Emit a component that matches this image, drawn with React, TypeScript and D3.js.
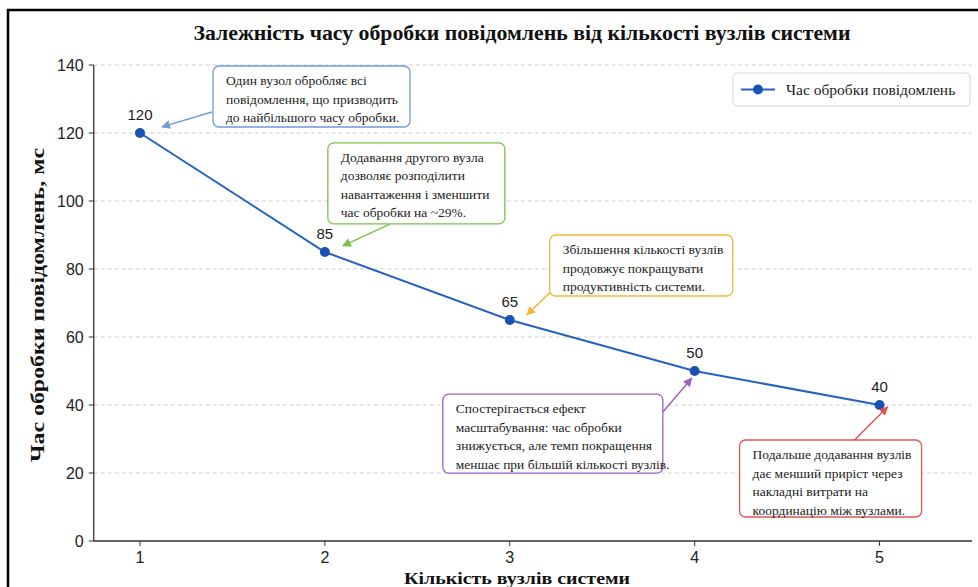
import React from 'react';
import * as d3 from 'd3';

// data
const nodes = [1, 2, 3, 4, 5];
const times = [120, 85, 65, 50, 40];
const yTicks = [0, 20, 40, 60, 80, 100, 120, 140];

const chartTitle = 'Залежність часу обробки повідомлень від кількості вузлів системи';
const xTitle = 'Кількість вузлів системи';
const yTitle = 'Час обробки повідомлень, мс';
const seriesName = 'Час обробки повідомлень';

const noteTexts = [
  ['Один вузол обробляє всі', 'повідомлення, що призводить', 'до найбільшого часу обробки.'],
  ['Додавання другого вузла', 'дозволяє розподілити', 'навантаження і зменшити', 'час обробки на ~29%.'],
  ['Збільшення кількості вузлів', 'продовжує покращувати', 'продуктивність системи.'],
  ['Спостерігається ефект', 'масштабування: час обробки', 'знижується, але темп покращення', 'меншає при більшій кількості вузлів.'],
  ['Подальше додавання вузлів', 'дає менший приріст через', 'накладні витрати на', 'координацію між вузлами.'],
];

// annotation layout (box corner + arrow in data units, box size in px)
const noteLayout = [
  { bx: 1.395, by: 139.7, w: 197, h: 61, tail: [1.389, 126.2], head: [1.119, 121.8], color: '#6f9bd6' },
  { bx: 2.016, by: 117.1, w: 177, h: 81, tail: [2.351, 93.2], head: [2.097, 86.8], color: '#7cc04c' },
  { bx: 3.216, by: 90.0, w: 183, h: 61, tail: [3.232, 73.8], head: [3.092, 66.5], color: '#f0b83a' },
  { bx: 2.638, by: 43.2, w: 220, h: 79, tail: [3.827, 37.9], head: [3.984, 47.9], color: '#9a62be' },
  { bx: 4.243, by: 29.7, w: 182, h: 77, tail: [4.865, 29.7], head: [5.043, 39.4], color: '#e05555' },
];

const W = 978;
const H = 587;
const serif = '"Liberation Serif", "DejaVu Serif", serif';
const sans = '"Liberation Sans", Arial, sans-serif';

const App: React.FC = () => {
  const x = d3.scaleLinear().domain([0.75, 5.5]).range([93.75, 972]);
  const y = d3.scaleLinear().domain([0, 140]).range([541, 65]);

  const line = d3.line<number>()
    .x((_, i) => x(nodes[i]))
    .y((d) => y(d));

  const lineColor = '#2462c2';
  const markerColor = '#1a52b2';

  return (
    <svg width={W} height={H} style={{ position: 'absolute', left: 0, top: 0, background: '#fff' }}>
      <defs>
        {noteLayout.map((n, i) => (
          <marker key={i} id={`arrow${i}`} viewBox="0 0 10 10" refX="9" refY="5"
            markerWidth="9" markerHeight="9" orient="auto-start-reverse" markerUnits="userSpaceOnUse">
            <path d="M0,0 L10,5 L0,10 z" fill={n.color} />
          </marker>
        ))}
      </defs>

      {/* screenshot frame */}
      <path d={`M8,${H} L8,10 L${W},10`} fill="none" stroke="#000" strokeWidth={2.5} />

      <text x={522} y={40} textAnchor="middle" fontFamily={serif} fontWeight="bold" fontSize={20}
        textLength={657} lengthAdjust="spacingAndGlyphs" fill="#111">{chartTitle}</text>

      {/* grid */}
      {yTicks.filter((t) => t > 0).map((t) => (
        <line key={t} x1={x(0.75)} x2={x(5.5)} y1={y(t)} y2={y(t)}
          stroke="#cfcfcf" strokeDasharray="4,3" strokeWidth={1} />
      ))}

      {/* axes */}
      <line x1={x(0.75)} x2={x(0.75)} y1={y(140)} y2={y(0)} stroke="#333" strokeWidth={1.3} />
      <line x1={x(0.75)} x2={x(5.5)} y1={y(0)} y2={y(0)} stroke="#333" strokeWidth={1.3} />
      {yTicks.map((t) => (
        <g key={t}>
          <line x1={x(0.75) - 5} x2={x(0.75)} y1={y(t)} y2={y(t)} stroke="#333" />
          <text x={x(0.75) - 10} y={y(t) + 6} textAnchor="end" fontFamily={sans} fontSize={16} fill="#222">{t}</text>
        </g>
      ))}
      {nodes.map((n) => (
        <g key={n}>
          <line x1={x(n)} x2={x(n)} y1={y(0)} y2={y(0) + 5} stroke="#333" />
          <text x={x(n)} y={y(0) + 22} textAnchor="middle" fontFamily={sans} fontSize={16} fill="#222">{n}</text>
        </g>
      ))}

      <text x={517} y={584} textAnchor="middle" fontFamily={serif} fontWeight="bold" fontSize={17}
        textLength={226} lengthAdjust="spacingAndGlyphs" fill="#111">{xTitle}</text>
      <text transform={`translate(44,305) rotate(-90)`} textAnchor="middle" fontFamily={serif}
        fontWeight="bold" fontSize={18} textLength={314} lengthAdjust="spacingAndGlyphs" fill="#111">{yTitle}</text>

      {/* series */}
      <path d={line(times) ?? ''} fill="none" stroke={lineColor} strokeWidth={2} />
      {times.map((v, i) => (
        <g key={i}>
          <circle cx={x(nodes[i])} cy={y(v)} r={5} fill={markerColor} />
          <text x={x(nodes[i])} y={y(v) - 13} textAnchor="middle" fontFamily={sans} fontSize={15} fill="#222">{v}</text>
        </g>
      ))}

      {/* annotations */}
      {noteLayout.map((n, i) => {
        const bx = x(n.bx);
        const by = y(n.by);
        return (
          <g key={i}>
            <line x1={x(n.tail[0])} y1={y(n.tail[1])} x2={x(n.head[0])} y2={y(n.head[1])}
              stroke={n.color} strokeWidth={1.5} markerEnd={`url(#arrow${i})`} />
            <rect x={bx} y={by} width={n.w} height={n.h} rx={6} fill="#fff" stroke={n.color} strokeWidth={1.3} />
            {noteTexts[i].map((s, j) => (
              <text key={j} x={bx + 13} y={by + 19 + j * 18.5} fontFamily={serif} fontSize={13.5} fill="#222">{s}</text>
            ))}
          </g>
        );
      })}

      {/* legend */}
      <rect x={733} y={73} width={237} height={33} rx={4} fill="#fff" stroke="#d6d6d6" />
      <line x1={741} x2={775} y1={89.5} y2={89.5} stroke={lineColor} strokeWidth={2} />
      <circle cx={758} cy={89.5} r={5} fill={markerColor} />
      <text x={786} y={95} fontFamily={serif} fontSize={15.5} fill="#222">{seriesName}</text>
    </svg>
  );
};

export default App;
